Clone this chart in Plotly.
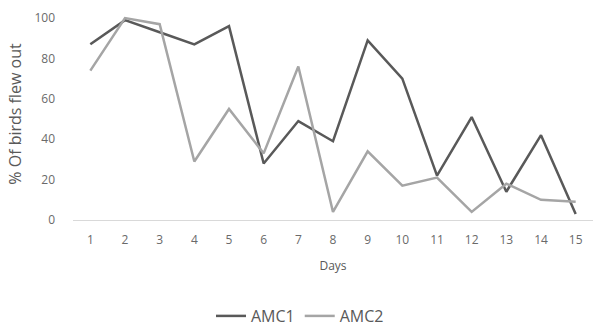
import plotly.graph_objects as go

days = list(range(1, 16))
amc1 = [87, 99, 93, 87, 96, 28, 49, 39, 89, 70, 22, 51, 14, 42, 3]
amc2 = [74, 100, 97, 29, 55, 33, 76, 4, 34, 17, 21, 4, 18, 10, 9]
y_ticks = [0, 20, 40, 60, 80, 100]

fig = go.Figure()
fig.add_trace(go.Scatter(x=days, y=amc1, mode="lines", name="AMC1",
                         line=dict(color="#595959", width=2.5)))
fig.add_trace(go.Scatter(x=days, y=amc2, mode="lines", name="AMC2",
                         line=dict(color="#a5a5a5", width=2.5)))

fig.update_layout(
    width=600, height=329,
    margin=dict(l=73, r=7, t=8, b=109, autoexpand=False),
    paper_bgcolor="white", plot_bgcolor="white",
    font=dict(family="Open Sans", color="#6a6a6a", size=12),
    legend=dict(orientation="h", xref="container", x=0.5, xanchor="center",
                yref="container", y=13 / 329, yanchor="middle",
                font=dict(size=16, color="#595959"), itemwidth=30),
    xaxis=dict(
        range=[0.5, 15.5], tickmode="array", tickvals=days,
        ticktext=[str(d) for d in days],
        showgrid=False, zeroline=False, showline=False, ticks="",
        ticklabelstandoff=11,
        title=dict(text="Days", font=dict(size=12, color="#595959"), standoff=14),
    ),
    yaxis=dict(
        range=[0, 105], tickmode="array", tickvals=y_ticks,
        showgrid=False, zeroline=True, zerolinecolor="#d9d9d9", zerolinewidth=1,
        showline=False, ticks="", ticklabelstandoff=17,
        title=dict(text="% Of birds flew out", font=dict(size=16, color="#595959"),
                   standoff=8),
    ),
)

fig.write_html("out.html")
